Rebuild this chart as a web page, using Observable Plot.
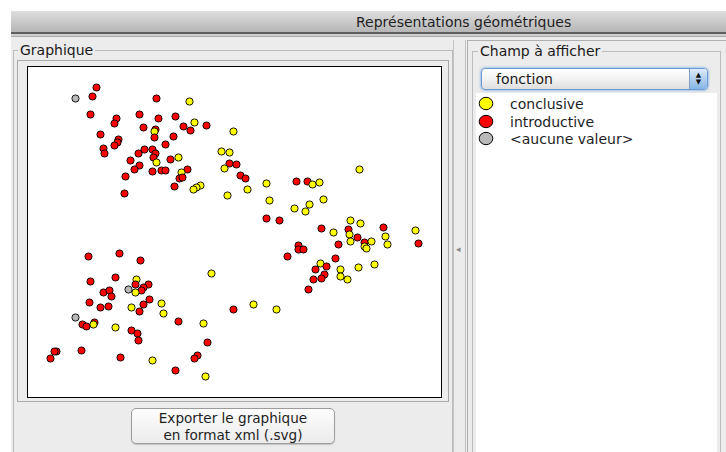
<!DOCTYPE html>
<html><head><meta charset="utf-8">
<script src="https://cdn.jsdelivr.net/npm/d3@7"></script>
<script src="https://cdn.jsdelivr.net/npm/@observablehq/plot@0.6"></script>
<style>
html,body{margin:0;padding:0;}
body{width:726px;height:452px;overflow:hidden;background:#fff;font-family:"DejaVu Sans",sans-serif;position:relative;color:#1a1a1a;}
.a{position:absolute;box-sizing:border-box;}
#win{left:11px;top:11px;width:715px;height:441px;background:#ececec;}
#titlebar{left:11px;top:11px;width:715px;height:23px;background:linear-gradient(#dedede,#b6b6b6);border-bottom:2px solid #5e5e5e;}
#sep{left:11px;top:34px;width:715px;height:3px;background:#cfcfcf;border-bottom:1px solid #a9a9a9;}
#title{left:356px;top:14px;font-size:14px;line-height:16px;white-space:nowrap;color:#1e1e1e;}
.lbl{font-size:14px;line-height:16px;background:#ececec;padding:0 2px;white-space:nowrap;}
#gbL{left:13px;top:50px;width:440px;height:410px;border:1px solid #bcbcbc;}
#lblL{left:18px;top:42px;}
#innerL{left:17px;top:60px;width:432px;height:342px;border:1px solid #a9a9a9;}
#plotbox{left:27px;top:66px;width:415px;height:332px;border:1px solid #000;background:#fff;}
#plotbox svg{display:block;}
#btn{left:131px;top:408px;width:204px;height:36px;border:1px solid #9b9b9b;border-radius:5px;background:linear-gradient(#fdfdfd,#ebebeb);box-shadow:0 1px 1px rgba(0,0,0,.18);font-size:13.6px;line-height:17px;text-align:center;padding-top:1px;color:#1e1e1e;}
#div1{left:453px;top:40px;width:1px;height:412px;background:#c4c4c4;}
#div2{left:465px;top:40px;width:1px;height:412px;background:#c4c4c4;}
#panR{left:467px;top:40px;width:270px;height:420px;border-left:1px solid #b0b0b0;border-top:1px solid #b0b0b0;}
#gbR{left:472px;top:51px;width:249px;height:410px;border:1px solid #bcbcbc;}
#lblR{left:478px;top:43px;}
#list{left:476px;top:93px;width:241px;height:360px;background:#fff;}
#combo{left:481px;top:68px;width:227px;height:22px;border:1px solid #6a9bd6;border-radius:4px;box-shadow:0 0 2px 1px rgba(110,160,225,.55);background:linear-gradient(#ffffff,#f3f3f3 50%,#dedede);overflow:hidden;}
#comboTxt{left:496px;top:71px;font-size:14px;line-height:16px;}
#step{left:689px;top:69px;width:18px;height:20px;background:linear-gradient(#dcebfa,#86b5e6);border-left:1px solid #7d9fc9;border-radius:0 3px 3px 0;font-size:7px;line-height:7px;text-align:center;padding-top:3px;color:#111;}
.item{left:478px;height:18px;}
.item span{position:absolute;left:32px;top:0;font-size:14px;line-height:16px;white-space:nowrap;color:#1e1e1e;}
.item svg{position:absolute;left:0;top:0;}
.arrow{font-size:9px;color:#888;}
</style></head>
<body>
<div id="win" class="a"></div>
<div id="titlebar" class="a"></div>
<div id="sep" class="a"></div>
<div id="title" class="a">Représentations géométriques</div>
<div id="gbL" class="a"></div>
<div id="lblL" class="a lbl">Graphique</div>
<div id="innerL" class="a"></div>
<div id="plotbox" class="a"></div>
<div id="btn" class="a">Exporter le graphique<br>en format xml (.svg)</div>
<div id="div1" class="a"></div>
<div id="div2" class="a"></div>
<div class="a arrow" style="left:456px;top:244px;">◂</div>
<div id="panR" class="a"></div>
<div id="gbR" class="a"></div>
<div id="lblR" class="a lbl">Champ à afficher</div>
<div id="list" class="a"></div>
<div id="combo" class="a"></div>
<div id="comboTxt" class="a">fonction</div>
<div id="step" class="a">▲<br>▼</div>
<div id="legend"></div>
<script>
// Categories of the field "fonction" and their colours
const categories = ["conclusive", "introductive", "<aucune valeur>"];
const colors = ["#ffff00", "#ff0000", "#b9b9b9"];

// Point coordinates and category index per point
const xValues = [
  47,68,64,128,161,62,111,88,86,130,
  147,166,178,115,155,162,127,126,205,72,
  126,145,90,89,86,137,75,76,116,124,
  110,127,125,193,201,102,150,142,128,201,
  208,196,111,106,124,133,137,159,153,151,
  154,212,217,97,146,172,168,165,96,199,
  219,238,241,268,279,284,291,331,295,281,
  266,277,238,251,293,322,332,355,387,305,
  320,321,329,322,357,390,336,343,336,338,
  359,310,270,270,275,259,307,183,292,298,
  287,312,330,346,296,285,293,312,319,280,
  60,91,112,87,62,108,100,107,120,115,
  113,107,75,81,83,121,115,133,61,72,
  80,103,111,135,205,47,150,175,54,58,
  66,65,87,103,109,110,179,28,26,22,
  53,92,169,166,124,147,177,225,248
];
const yValues = [
  299,310,301,299,296,283,283,279,274,279,
  281,275,272,270,271,267,268,266,266,263,
  260,261,258,255,252,253,249,244,248,248,
  244,244,240,246,245,237,240,238,235,234,
  233,229,232,228,226,227,227,228,225,219,
  220,222,219,221,211,212,210,208,204,202,
  208,214,197,216,216,213,215,228,198,193,
  189,186,179,177,169,177,174,170,167,165,
  168,163,160,156,161,154,155,156,151,149,
  153,153,152,148,148,141,139,124,134,131,
  128,128,130,133,123,118,119,121,118,108,
  141,144,137,120,116,118,108,113,113,110,
  107,105,105,107,101,98,93,94,95,90,
  91,90,86,84,88,80,76,74,73,71,
  75,73,70,67,64,57,55,46,46,39,
  47,40,42,39,37,27,21,93,88
];
const fonctionIdx = [
  2,1,1,1,0,1,1,1,1,1,
  1,0,1,1,1,1,1,0,0,1,
  1,1,1,1,1,1,1,1,1,1,
  1,1,1,0,0,1,0,1,0,1,
  1,0,1,1,1,1,1,1,0,1,
  1,1,1,1,1,0,0,0,1,0,
  0,0,0,1,1,0,0,0,0,0,
  0,0,1,1,1,0,0,1,0,0,
  1,0,1,0,0,1,1,0,0,0,
  0,1,1,1,1,1,1,0,0,1,
  1,0,0,0,1,1,1,0,0,1,
  1,1,1,1,1,0,2,1,1,1,
  1,0,1,1,1,1,1,0,1,1,
  1,0,1,0,1,2,1,0,1,1,
  1,0,0,1,1,1,1,1,1,1,
  1,1,1,1,0,1,0,0,0
];
const xDomain = [0, 413];
const yDomain = [0, 330];

const data = xValues.map((x, i) => ({x, y: yValues[i], fonction: categories[fonctionIdx[i]]}));

const chart = Plot.plot({
  width: 413,
  height: 330,
  margin: 0,
  style: {background: "#fff", overflow: "visible"},
  x: {domain: xDomain, axis: null},
  y: {domain: yDomain, axis: null},
  color: {domain: categories, range: colors},
  marks: [
    Plot.dot(data, {x: "x", y: "y", fill: "fonction", stroke: "#000", strokeWidth: 0.9, r: 3.6})
  ]
});
document.getElementById("plotbox").appendChild(chart);

// Legend (HTML, built from the same arrays)
const leg = document.getElementById("legend");
categories.forEach((c, i) => {
  const d = document.createElement("div");
  d.className = "a item";
  d.style.top = (96 + i * 17.7) + "px";
  d.innerHTML = `<svg width="18" height="16"><ellipse cx="8" cy="7.5" rx="6.8" ry="6.2" fill="${colors[i]}" stroke="#000" stroke-width="1"/></svg>`;
  const s = document.createElement("span");
  s.textContent = c;
  d.appendChild(s);
  leg.appendChild(d);
});
</script>
</body></html>
